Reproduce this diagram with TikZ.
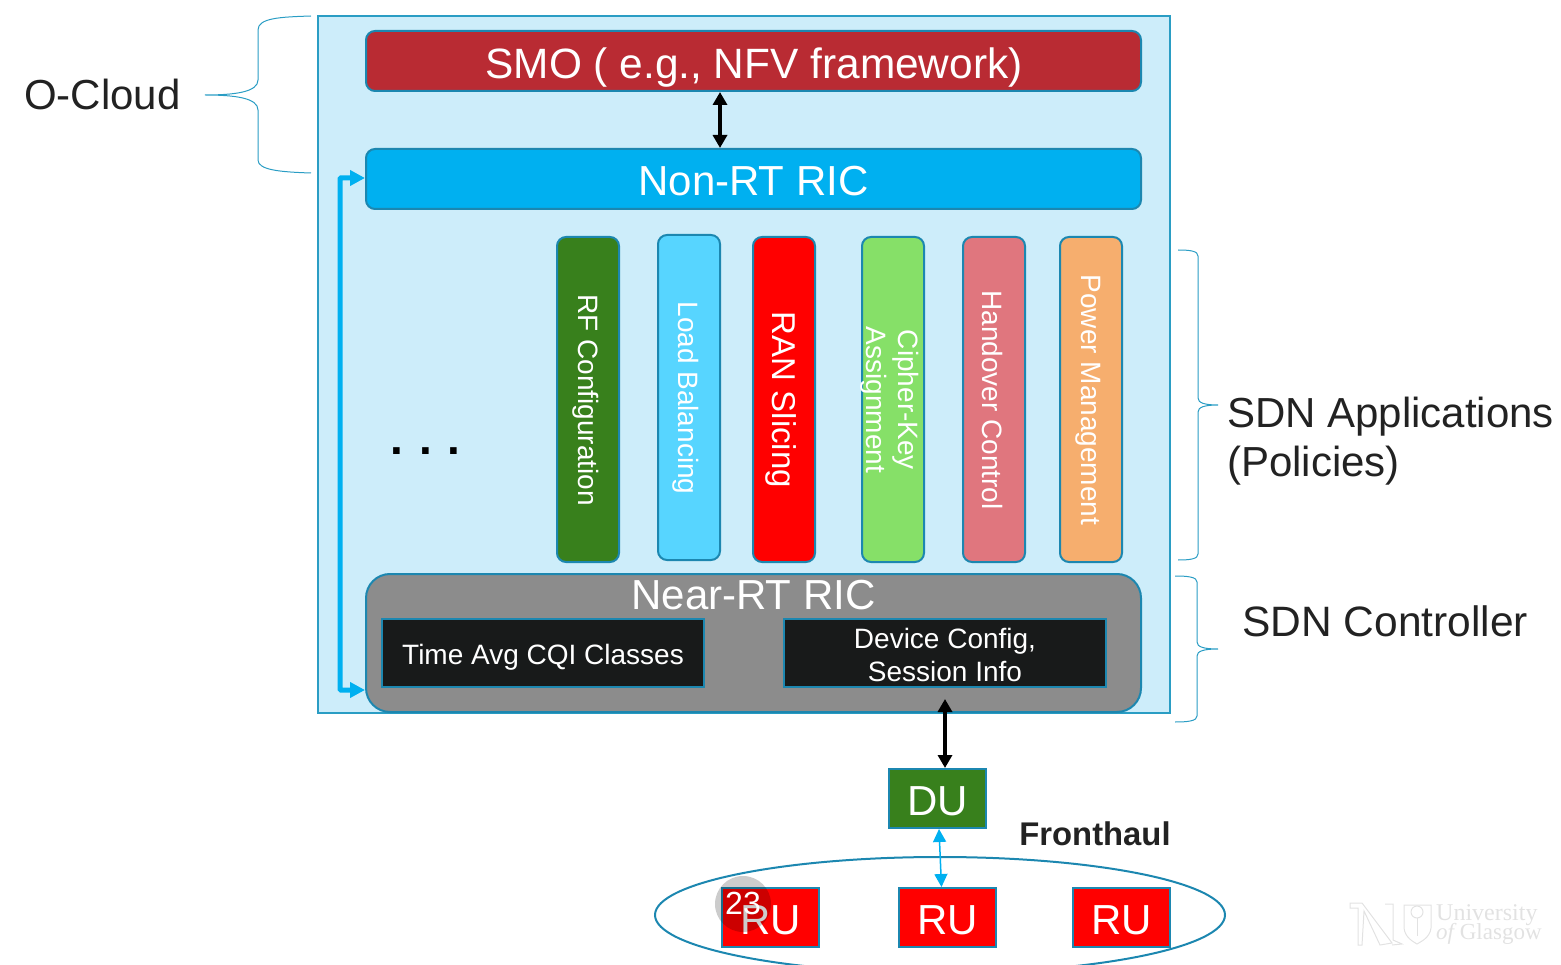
\documentclass[tikz,border=0pt]{standalone}
\usepackage{fontspec}
\setmainfont{Liberation Sans}
\newfontfamily\serifwm{Liberation Serif}
\usetikzlibrary{arrows.meta,calc}
\definecolor{edgeblue}{HTML}{1C87B0}
\definecolor{panelfill}{HTML}{CDEDFA}
\definecolor{paneledge}{HTML}{2A9DC4}
\definecolor{smofill}{HTML}{B92B33}
\definecolor{cyanfill}{HTML}{00B0F0}
\definecolor{rffill}{HTML}{38801C}
\definecolor{loadfill}{HTML}{57D5FF}
\definecolor{ciphfill}{HTML}{86E068}
\definecolor{handfill}{HTML}{E0767E}
\definecolor{powfill}{HTML}{F6AE6E}
\definecolor{nearfill}{HTML}{8C8C8C}
\definecolor{darkfill}{HTML}{181A1A}
\definecolor{inktext}{HTML}{222222}
\definecolor{wmcolor}{HTML}{E2E2E2}
\newcommand{\fs}[1]{\fontsize{#1}{#1}\selectfont}
\tikzset{
 box/.style={draw=edgeblue,line width=2pt,inner sep=0pt,text=white,align=center},
 rbox/.style={box,rounded corners=9pt},
 bar/.style={rbox,rotate=-90,minimum width=325pt,minimum height=62pt},
 bartext/.style={text=white,rotate=-90,font=\fs{28},inner sep=0pt,align=center},
 label/.style={text=white,inner sep=0pt,align=center},
 side/.style={text=inktext,inner sep=0pt,align=left,anchor=west},
 brace/.style={draw=paneledge,line width=1pt},
 blackarrow/.style={draw=black,line width=3.5pt,{Triangle[length=13pt,width=14pt]}-{Triangle[length=13pt,width=14pt]}},
 cyanthick/.style={draw=cyanfill,line width=5pt,{Triangle[length=15pt,width=15pt]}-{Triangle[length=15pt,width=15pt]},rounded corners=1pt},
 cyanthin/.style={draw=cyanfill,line width=1.5pt,{Triangle[length=13pt,width=13pt]}-{Triangle[length=13pt,width=13pt]}},
 wmline/.style={draw=wmcolor,line width=1pt}
}
\begin{document}
\begin{tikzpicture}[x=1pt,y=-1pt]
\useasboundingbox (0,0) rectangle (1561,965);
\clip (0,0) rectangle (1561,965);
% main panel
\node[draw=paneledge,line width=2pt,fill=panelfill,minimum width=852pt,minimum height=697pt,inner sep=0pt] (panel) at (744,364.5) {};
% top bars
\node[rbox,fill=smofill,minimum width=775pt,minimum height=60pt] (smo) at (753.5,61) {};
\node[label,font=\fs{42.4}] (smot) at (754,67.5) {SMO ( e.g., NFV framework)};
\node[rbox,fill=cyanfill,minimum width=775pt,minimum height=60pt] (nonrt) at (753.5,179) {};
\node[label,font=\fs{42}] (nonrtt) at (753.5,181) {Non-RT RIC};
% application bars
\node[bar,fill=rffill] (rf) at (588,399.5) {};
\node[bartext] (rft) at (585.5,400) {RF Configuration};
\node[bar,fill=loadfill] (load) at (689,397.5) {};
\node[bartext] (loadt) at (685.5,398) {Load Balancing};
\node[bar,fill=red] (ran) at (784,399.5) {};
\node[bartext,font=\fs{33}] (rant) at (781,400) {RAN Slicing};
\node[bar,fill=ciphfill] (ciph) at (893,399.5) {};
\node[bartext] (ciphA) at (906,400) {Cipher-Key};
\node[bartext] (ciphB) at (874,400) {Assignment};
\node[bar,fill=handfill] (hand) at (994,399.5) {};
\node[bartext] (handt) at (992.5,400) {Handover Control};
\node[bar,fill=powfill] (pow) at (1091,399.5) {};
\node[bartext] (powt) at (1088,400) {Power Management};
\node[text=black,font=\fs{46}\bfseries,inner sep=0pt] (dots) at (425.5,451) {.\kern15.7pt.\kern15.7pt.};
% near rt
\node[rbox,rounded corners=24pt,fill=nearfill,minimum width=775pt,minimum height=138pt] (near) at (753.5,643) {};
\node[label,font=\fs{42}] (neart) at (753.5,595) {Near-RT RIC};
\node[box,fill=darkfill,minimum width=322pt,minimum height=68pt] (time) at (543,653) {};
\node[label,font=\fs{28}] (timet) at (543,657.5) {Time Avg CQI Classes};
\node[box,fill=darkfill,minimum width=322pt,minimum height=68pt] (dev) at (945,653) {};
\node[label,font=\fs{28}] (devA) at (945,641) {Device Config,};
\node[label,font=\fs{28}] (devB) at (945,671) {Session Info};
% RAN
\node[box,fill=rffill,minimum width=97pt,minimum height=59pt] (du) at (937.5,798.5) {};
\node[label,font=\fs{42}] (dut) at (937.5,801) {DU};
\draw[draw=edgeblue,line width=2pt] (940,915) ellipse [x radius=285, y radius=58];
\coordinate (ell) at (940,915);
\node[box,fill=red,minimum width=97pt,minimum height=59pt] (ru1) at (770.5,917.5) {};
\node[label,font=\fs{42}] (ru1t) at (770.5,920) {RU};
\node[box,fill=red,minimum width=97pt,minimum height=59pt] (ru2) at (947.5,917.5) {};
\node[label,font=\fs{42}] (ru2t) at (947.5,920) {RU};
\node[box,fill=red,minimum width=97pt,minimum height=59pt] (ru3) at (1121.5,917.5) {};
\node[label,font=\fs{42}] (ru3t) at (1121.5,920) {RU};
\node[text=inktext,font=\fs{32.8}\bfseries,inner sep=0pt] (fh) at (1095,834) {Fronthaul};
% connectors
\coordinate (xa) at (720,120);
\draw[blackarrow] (xa |- smo.south) -- (xa |- nonrt.north);
\coordinate (xb) at (945,730);
\draw[blackarrow] (xb |- near.south) ++(0,-14) -- (xb |- du.north);
\coordinate (xl) at (340,400);
\coordinate (yt) at (350,178);
\coordinate (yb) at (350,690);
\draw[cyanthick] (nonrt.west |- yt) -- (xl |- yt) -- (xl |- yb) -- (near.west |- yb);
\coordinate (fa) at (939,830);
\coordinate (fb) at (941.5,880);
\draw[cyanthin] (fa |- du.south) -- (fb |- ru2.north);
% side labels and braces
\node[side,font=\fs{42}] (ocl) at (24,94.5) {O-Cloud};
\node[side,font=\fs{42}] (sdna) at (1227,441) {SDN Applications\\[6.5pt](Policies)};
\node[side,font=\fs{42.5}] (sdnc) at (1242,621) {SDN Controller};
\draw[brace] (311,16) .. controls (280,17) and (258,18) .. (258,30) -- (258,80) .. controls (258,92) and (235,95) .. (205,95) .. controls (235,95) and (258,98) .. (258,110) -- (258,160) .. controls (258,170) and (280,172) .. (311,173);
\draw[brace] (1178,250) .. controls (1190,250) and (1198,251) .. (1198,256) -- (1198,398) .. controls (1198,403) and (1205,405) .. (1218,405) .. controls (1205,405) and (1198,407) .. (1198,412) -- (1198,554) .. controls (1198,559) and (1190,560) .. (1178,560);
\draw[brace] (1175,576) .. controls (1188,576) and (1197,577) .. (1197,582) -- (1197,642) .. controls (1197,647) and (1204,649) .. (1218,649) .. controls (1204,649) and (1197,651) .. (1197,656) -- (1197,716) .. controls (1197,721) and (1188,722) .. (1175,722);
% slide number overlay
\fill[black,opacity=.2] (743,904) circle (28);
\node[text=white,font=\fs{32},inner sep=0pt] (num) at (743,903) {23};
% watermark
\draw[wmline] (1350,903) -- (1362,903) -- (1392,943) -- (1380,945) -- (1364,911) -- (1362,945) -- (1358,945) -- (1358,908) -- (1350,908) -- cycle;
\draw[wmline] (1385,904) -- (1393,904) -- (1393,940) -- (1402,944) -- (1392,945);
\draw[wmline] (1404,905) -- (1431,905) -- (1431,928) .. controls (1430,938) and (1420,942) .. (1417,944) .. controls (1414,942) and (1405,938) .. (1404,928) -- cycle;
\draw[wmline] (1417,912) circle (6);
\draw[wmline] (1417,918) -- (1417,936);
\node[text=wmcolor,font=\serifwm\fs{24},inner sep=0pt,anchor=west] (wm1) at (1436,915) {University};
\node[text=wmcolor,font=\serifwm\fs{23},inner sep=0pt,anchor=west] (wm2) at (1436,934) {\itshape of\upshape{} Glasgow};
\end{tikzpicture}
\end{document}
